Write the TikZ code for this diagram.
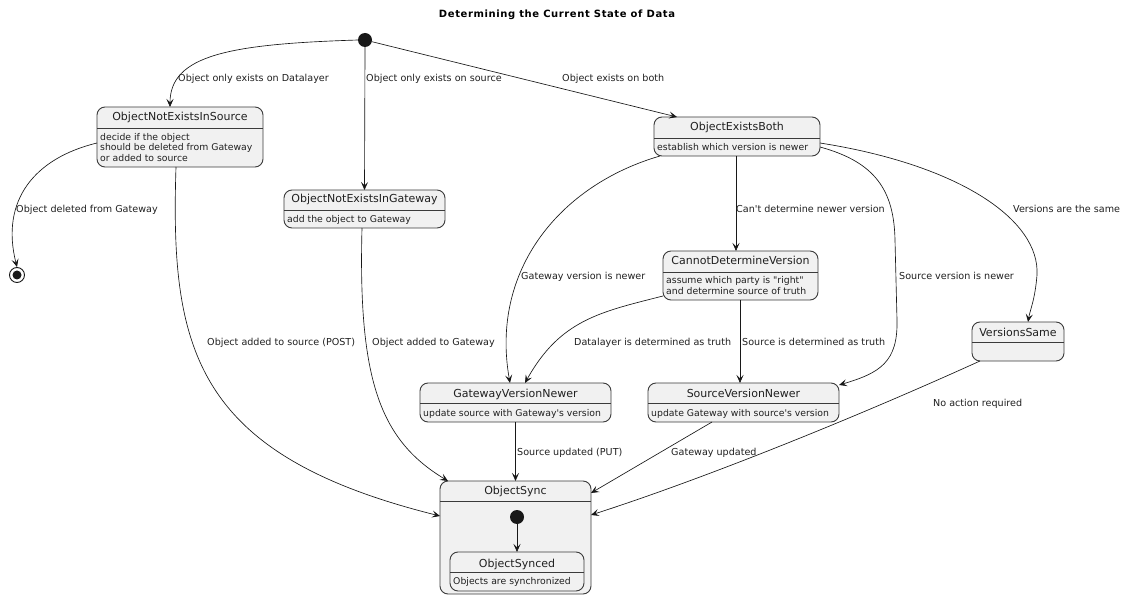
\documentclass[tikz,border=0pt]{standalone}
\usepackage{fontspec}
\setmainfont{DejaVu Sans}
\usepackage{tikz}
\usetikzlibrary{arrows.meta}

\definecolor{stategray}{HTML}{F1F1F1}
\definecolor{linegray}{HTML}{181818}
\definecolor{textgray}{HTML}{202020}

\tikzset{
  state/.style={draw=linegray!85, fill=stategray, rounded corners=8pt, line width=0.9pt, inner sep=0pt, outer sep=0pt},
  sepline/.style={draw=linegray!85, line width=0.9pt},
  ttl/.style={font=\fontsize{11}{13}\selectfont, anchor=base, inner sep=0pt, text=textgray},
  bdy/.style={font=\fontsize{9.3}{10.5}\selectfont, anchor=base west, inner sep=0pt, text=textgray},
  lbl/.style={font=\fontsize{9.6}{11}\selectfont, anchor=base west, inner sep=0pt, text=textgray},
  edge/.style={draw=linegray, line width=0.65pt, -{Stealth[length=8pt, width=7pt, inset=3.5pt]}},
  initstate/.style={circle, fill=linegray, minimum size=14pt, inner sep=0pt, outer sep=0pt}
}

\begin{document}
\begin{tikzpicture}[x=1pt, y=-1pt]
\useasboundingbox (0,0) rectangle (1125,596);
\fill[white] (0,0) rectangle (1125,596);

\node[font=\bfseries\fontsize{10}{12}\selectfont\addfontfeature{LetterSpace=6}, anchor=base, inner sep=0pt] (heading) at (557,17.5) {Determining the Current State of Data};

\node[initstate] (init) at (365,40) {};

\node[state, minimum width=166pt, minimum height=60pt] (notsrc) at (180,137) {};
\draw[sepline] (notsrc.west |- 0,128) -- (notsrc.east |- 0,128);
\node[ttl] (notsrc-t) at (180,121) {ObjectNotExistsInSource};
\node[bdy] (notsrc-b1) at (100,140.4) {decide if the object};
\node[bdy] (notsrc-b2) at (100,150.9) {should be deleted from Gateway};
\node[bdy] (notsrc-b3) at (100,161.4) {or added to source};

\node[state, minimum width=161pt, minimum height=38pt] (notgw) at (364.5,209) {};
\draw[sepline] (notgw.west |- 0,210) -- (notgw.east |- 0,210);
\node[ttl] (notgw-t) at (364.5,203) {ObjectNotExistsInGateway};
\node[bdy] (notgw-b) at (287,222.4) {add the object to Gateway};

\node[state, minimum width=166pt, minimum height=39pt] (both) at (737,136.5) {};
\draw[sepline] (both.west |- 0,138) -- (both.east |- 0,138);
\node[ttl] (both-t) at (737,131) {ObjectExistsBoth};
\node[bdy] (both-b) at (657,150.4) {establish which version is newer};

\node[state, minimum width=155pt, minimum height=49pt] (cannot) at (740.5,275.5) {};
\draw[sepline] (cannot.west |- 0,272) -- (cannot.east |- 0,272);
\node[ttl] (cannot-t) at (740.5,265) {CannotDetermineVersion};
\node[bdy] (cannot-b1) at (666,283.4) {assume which party is \textquotedbl right\textquotedbl};
\node[bdy] (cannot-b2) at (666,294.4) {and determine source of truth};

\node[state, minimum width=191pt, minimum height=39pt] (gwnewer) at (515.5,402.5) {};
\draw[sepline] (gwnewer.west |- 0,403) -- (gwnewer.east |- 0,403);
\node[ttl] (gwnewer-t) at (515.5,397) {GatewayVersionNewer};
\node[bdy] (gwnewer-b) at (423,416.4) {update source with Gateway\textquotesingle s version};

\node[state, minimum width=191pt, minimum height=39pt] (srcnewer) at (743.5,402.5) {};
\draw[sepline] (srcnewer.west |- 0,403) -- (srcnewer.east |- 0,403);
\node[ttl] (srcnewer-t) at (743.5,397) {SourceVersionNewer};
\node[bdy] (srcnewer-b) at (651,416.4) {update Gateway with source\textquotesingle s version};

\node[state, minimum width=92pt, minimum height=39pt] (same) at (1018,341.5) {};
\draw[sepline] (same.west |- 0,342) -- (same.east |- 0,342);
\node[ttl] (same-t) at (1018,336) {VersionsSame};

\node[state, minimum width=151pt, minimum height=113pt] (sync) at (515.5,537.5) {};
\draw[sepline] (sync.west |- 0,501) -- (sync.east |- 0,501);
\node[ttl] (sync-t) at (515.5,494) {ObjectSync};
\node[initstate] (init2) at (517,517) {};
\node[state, minimum width=134pt, minimum height=39pt] (synced) at (517,571.5) {};
\draw[sepline] (synced.west |- 0,572) -- (synced.east |- 0,572);
\node[ttl] (synced-t) at (517,567) {ObjectSynced};
\node[bdy] (synced-b) at (453,584.4) {Objects are synchronized};

\node[circle, draw=linegray, line width=0.9pt, fill=white, minimum size=15pt, inner sep=0pt] (final) at (17,275) {};
\node[circle, fill=linegray, minimum size=9pt, inner sep=0pt] (final-dot) at (final) {};

\draw[edge] (init.west) .. controls (230,44) and (170,55) .. (notsrc.north -| 170,0);
\draw[edge] (init.south) -- (notgw.north);
\draw[edge] (init) -- (both.north -| 677,0);
\draw[edge] (notsrc.west |- 0,143) .. controls (35,158) and (0,200) .. (final.north);
\draw[edge] (notsrc.south -| 176,0) .. controls (170,350) and (195,455) .. (sync.west |- 0,516);
\draw[edge] (notgw.south -| 362,0) .. controls (358,380) and (380,440) .. (sync.north -| 448,0);
\draw[edge] (both.south -| 660,0) .. controls (560,185) and (490,270) .. (gwnewer.north -| 510,0);
\draw[edge] (both.south -| 736,0) -- (cannot.north -| 736,0);
\draw[edge] (both.east |- 0,147) .. controls (875,162) and (894,190) .. (895,240) -- (897,320) .. controls (898,362) and (880,373) .. (srcnewer.east |- 0,385);
\draw[edge] (both.east |- 0,143) .. controls (960,165) and (1040,220) .. (1037,275) .. controls (1035,300) and (1030,310) .. (same.north -| 1028,0);
\draw[edge] (cannot.south -| 740,0) -- (srcnewer.north -| 740,0);
\draw[edge] (cannot.west |- 0,296) .. controls (600,312) and (560,320) .. (gwnewer.north -| 525,0);
\draw[edge] (gwnewer.south) -- (sync.north);
\draw[edge] (srcnewer.south -| 712,0) -- (sync.east |- 0,493);
\draw[edge] (same.south -| 980,0) .. controls (850,420) and (700,480) .. (sync.east |- 0,515);
\draw[edge] (init2) -- (synced.north);

\node[lbl] (l-datalayer) at (178,81.5) {Object only exists on Datalayer};
\node[lbl] (l-source) at (366,81.5) {Object only exists on source};
\node[lbl] (l-both) at (562,81.5) {Object exists on both};
\node[lbl] (l-deleted) at (16,212.5) {Object deleted from Gateway};
\node[lbl] (l-post) at (207,345.5) {Object added to source (POST)};
\node[lbl] (l-added) at (372,345.5) {Object added to Gateway};
\node[lbl] (l-cant) at (736,212.5) {Can\textquotesingle t determine newer version};
\node[lbl] (l-gwnewer) at (521,279.5) {Gateway version is newer};
\node[lbl] (l-srcnewer) at (899,279.5) {Source version is newer};
\node[lbl] (l-same) at (1013,212.5) {Versions are the same};
\node[lbl] (l-dltruth) at (574,345.5) {Datalayer is determined as truth};
\node[lbl] (l-srctruth) at (742,345.5) {Source is determined as truth};
\node[lbl] (l-put) at (517,455.5) {Source updated (PUT)};
\node[lbl] (l-gwupd) at (671,455.5) {Gateway updated};
\node[lbl] (l-noaction) at (933,406.5) {No action required};
\end{tikzpicture}
\end{document}
